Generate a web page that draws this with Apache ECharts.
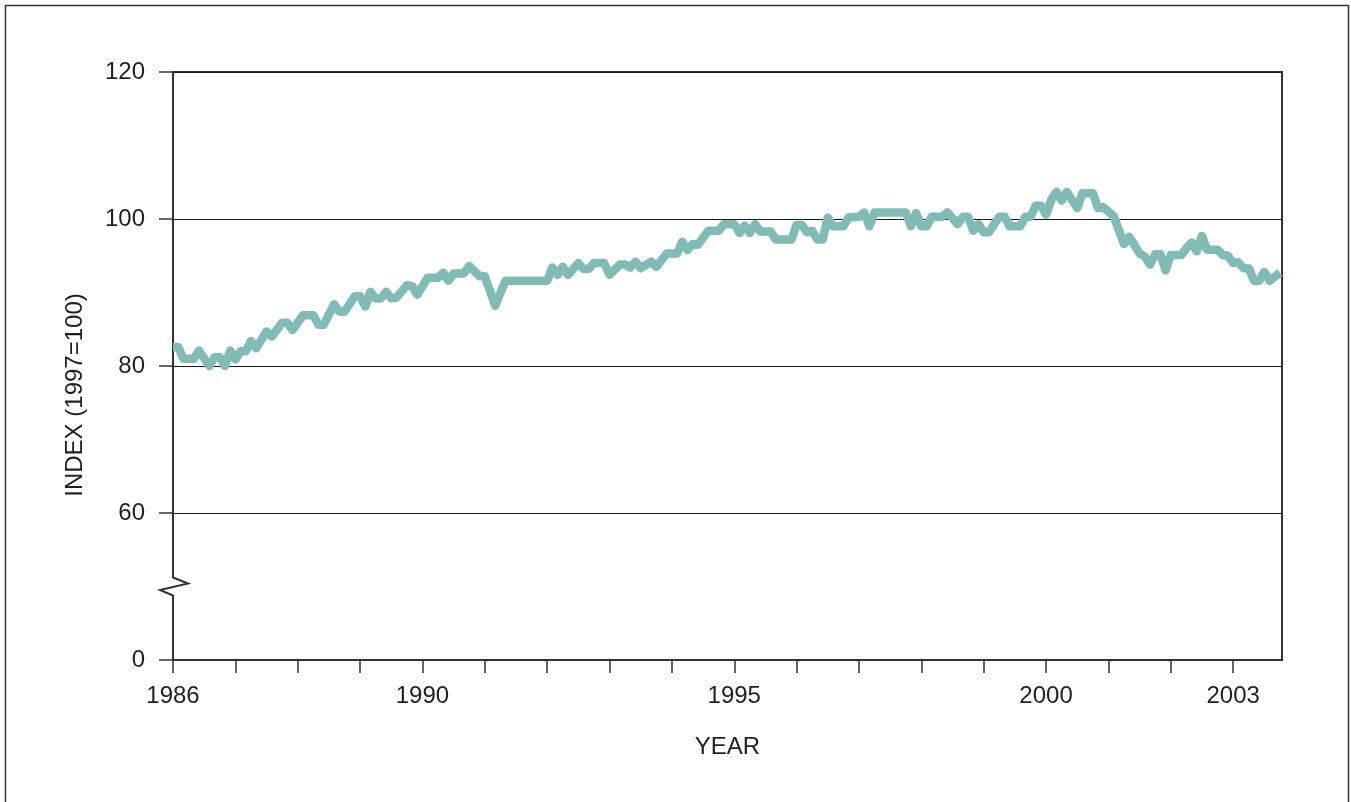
<!DOCTYPE html>
<html>
<head>
<meta charset="utf-8">
<title>Index (1997=100), 1986–2003</title>
<script src="https://cdn.jsdelivr.net/npm/echarts@6/dist/echarts.min.js"></script>
<style>
  html, body { margin: 0; padding: 0; background: #ffffff; }
  #chart { width: 1351px; height: 802px; }
</style>
</head>
<body>
<div id="chart"></div>
<script>
// Monthly index readings: months counted from January 1986, and the index value (1997=100).
const monthOffsets = [
  0, 1, 2, 4, 5, 7, 8, 9, 10, 11, 12, 13, 14, 15, 16, 18, 19, 21, 22, 23,
  25, 27, 28, 29, 31, 32, 33, 35, 36, 37, 38, 39, 40, 41, 42, 43, 45, 46, 47, 49,
  51, 52, 53, 54, 56, 57, 59, 60, 62, 64, 72, 73, 74, 75, 76, 78, 79, 80, 81, 83,
  84, 86, 87, 88, 89, 90, 92, 93, 95, 97, 98, 99, 100, 101, 103, 105, 106, 108, 109, 110,
  111, 112, 113, 115, 116, 119, 120, 121, 122, 123, 124, 125, 126, 127, 129, 130, 132, 133, 134, 135,
  141, 142, 143, 144, 145, 146, 148, 149, 151, 152, 153, 154, 155, 156, 157, 159, 160, 161, 163, 164,
  165, 166, 167, 168, 169, 170, 171, 172, 174, 175, 177, 178, 179, 181, 183, 184, 186, 187, 188, 189,
  190, 191, 192, 194, 195, 196, 197, 198, 199, 201, 202, 203, 204, 205, 206, 207, 208, 209, 210, 211,
  213
];
const indexValues = [
  82.6, 82.6, 81.0, 81.0, 82.1, 80.0, 81.2, 81.2, 80.0, 82.1, 80.9, 82.0, 82.0, 83.4, 82.4, 84.7, 84.0, 85.9, 85.9, 84.9,
  86.9, 86.9, 85.6, 85.6, 88.4, 87.4, 87.4, 89.5, 89.5, 88.1, 90.1, 89.2, 89.2, 90.1, 89.2, 89.3, 91.0, 90.9, 89.7, 92.0,
  92.0, 92.7, 91.6, 92.6, 92.6, 93.6, 92.2, 92.2, 88.2, 91.6, 91.6, 93.4, 92.4, 93.5, 92.4, 94.0, 93.2, 93.2, 94.0, 94.0,
  92.4, 93.8, 93.8, 93.4, 94.2, 93.3, 94.2, 93.5, 95.3, 95.3, 96.9, 95.8, 96.6, 96.5, 98.4, 98.4, 99.3, 99.3, 98.1, 99.1,
  98.1, 99.3, 98.3, 98.3, 97.2, 97.2, 99.2, 99.2, 98.2, 98.4, 97.2, 97.2, 100.2, 99.0, 99.0, 100.2, 100.3, 100.9, 99.0, 100.9,
  100.9, 99.0, 100.8, 99.0, 99.0, 100.3, 100.3, 100.9, 99.3, 100.3, 100.3, 98.4, 99.3, 98.2, 98.2, 100.3, 100.3, 99.0, 99.0, 100.3,
  100.3, 101.8, 101.8, 100.6, 102.6, 103.7, 102.5, 103.7, 101.5, 103.5, 103.5, 101.5, 101.6, 100.4, 96.6, 97.6, 95.3, 94.9, 93.8, 95.2,
  95.2, 93.0, 95.1, 95.1, 96.0, 96.8, 95.6, 97.7, 95.8, 95.8, 95.1, 95.0, 94.0, 94.1, 93.3, 93.3, 91.6, 91.6, 92.8, 91.6,
  92.7
];

// Axis ticks and labels
const startYear = 1986;
const endYear = 2003 + 9.4 / 12;
const yearTicks = [1986, 1987, 1988, 1989, 1990, 1991, 1992, 1993, 1994, 1995, 1996, 1997, 1998, 1999, 2000, 2001, 2002, 2003];
const yearLabels = [1986, 1990, 1995, 2000, 2003];
// The value axis is broken below 60: the bottom tick stands for 0.
const yTickValues = [40, 60, 80, 100, 120];
const yTickLabels = ['0', '60', '80', '100', '120'];
const breakValue = 50;

const seriesData = monthOffsets.map((m, i) => [startYear + m / 12, indexValues[i]]);

const FONT = '"Liberation Sans", Arial, Helvetica, sans-serif';
const INK = '#231f20';
const FRAME = '#333333';

const chart = echarts.init(document.getElementById('chart'), null, { renderer: 'canvas' });

chart.setOption({
  animation: false,
  backgroundColor: '#ffffff',
  grid: {
    left: 173, right: 69, top: 72, bottom: 142,
    show: true,
    borderColor: FRAME,
    borderWidth: 2,
    backgroundColor: 'transparent'
  },
  xAxis: {
    type: 'value',
    min: startYear,
    max: endYear,
    interval: 1,
    name: 'YEAR',
    nameLocation: 'middle',
    nameGap: 75,
    nameTextStyle: { fontFamily: FONT, fontSize: 24, color: INK },
    axisLine: { show: true, lineStyle: { color: FRAME, width: 2 } },
    axisTick: {
      show: true, inside: false, length: 13,
      customValues: yearTicks,
      lineStyle: { color: FRAME, width: 1.5 }
    },
    axisLabel: {
      show: true,
      customValues: yearLabels,
      margin: 24,
      fontFamily: FONT, fontSize: 24, color: INK,
      formatter: v => String(Math.round(v))
    },
    splitLine: { show: false }
  },
  yAxis: {
    type: 'value',
    min: 40,
    max: 120,
    interval: 20,
    axisLine: { show: true, lineStyle: { color: FRAME, width: 2 } },
    axisTick: { show: true, inside: false, length: 14, lineStyle: { color: FRAME, width: 1.5 } },
    axisLabel: {
      margin: 28,
      fontFamily: FONT, fontSize: 24, color: INK,
      formatter: v => {
        const k = yTickValues.indexOf(v);
        return k >= 0 ? yTickLabels[k] : '';
      }
    },
    splitLine: { show: true, lineStyle: { color: '#1a1a1a', width: 1.2 } }
  },
  series: [{
    type: 'line',
    data: seriesData,
    showSymbol: false,
    symbol: 'none',
    lineStyle: { color: '#80bbb5', width: 8.5, join: 'round', cap: 'butt' },
    z: 3
  }]
});

// Outer frame, the rotated y-axis title and the axis-break mark.
const x0 = chart.convertToPixel({ gridIndex: 0 }, [startYear, breakValue]);
const ax = Math.round(x0[0]);
const yb = x0[1];

chart.setOption({
  graphic: [
    {
      type: 'rect',
      shape: { x: 5.5, y: 5.5, width: 1343, height: 820 },
      style: { fill: 'none', stroke: FRAME, lineWidth: 1.5 },
      silent: true, z: 0
    },
    {
      type: 'text',
      x: 75, y: 395,
      rotation: Math.PI / 2,
      style: {
        text: 'INDEX (1997=100)',
        font: '24px ' + FONT,
        fill: INK,
        align: 'center',
        verticalAlign: 'middle'
      },
      silent: true, z: 10
    },
    {
      type: 'rect',
      shape: { x: ax - 3, y: yb - 8.5, width: 6, height: 17 },
      style: { fill: '#ffffff' },
      silent: true, z: 10
    },
    {
      type: 'polyline',
      shape: { points: [[ax, yb - 9], [ax + 15, yb - 3], [ax - 13, yb + 3.5], [ax, yb + 9]] },
      style: { stroke: FRAME, lineWidth: 2, fill: 'none' },
      silent: true, z: 11
    }
  ]
});
</script>
</body>
</html>
